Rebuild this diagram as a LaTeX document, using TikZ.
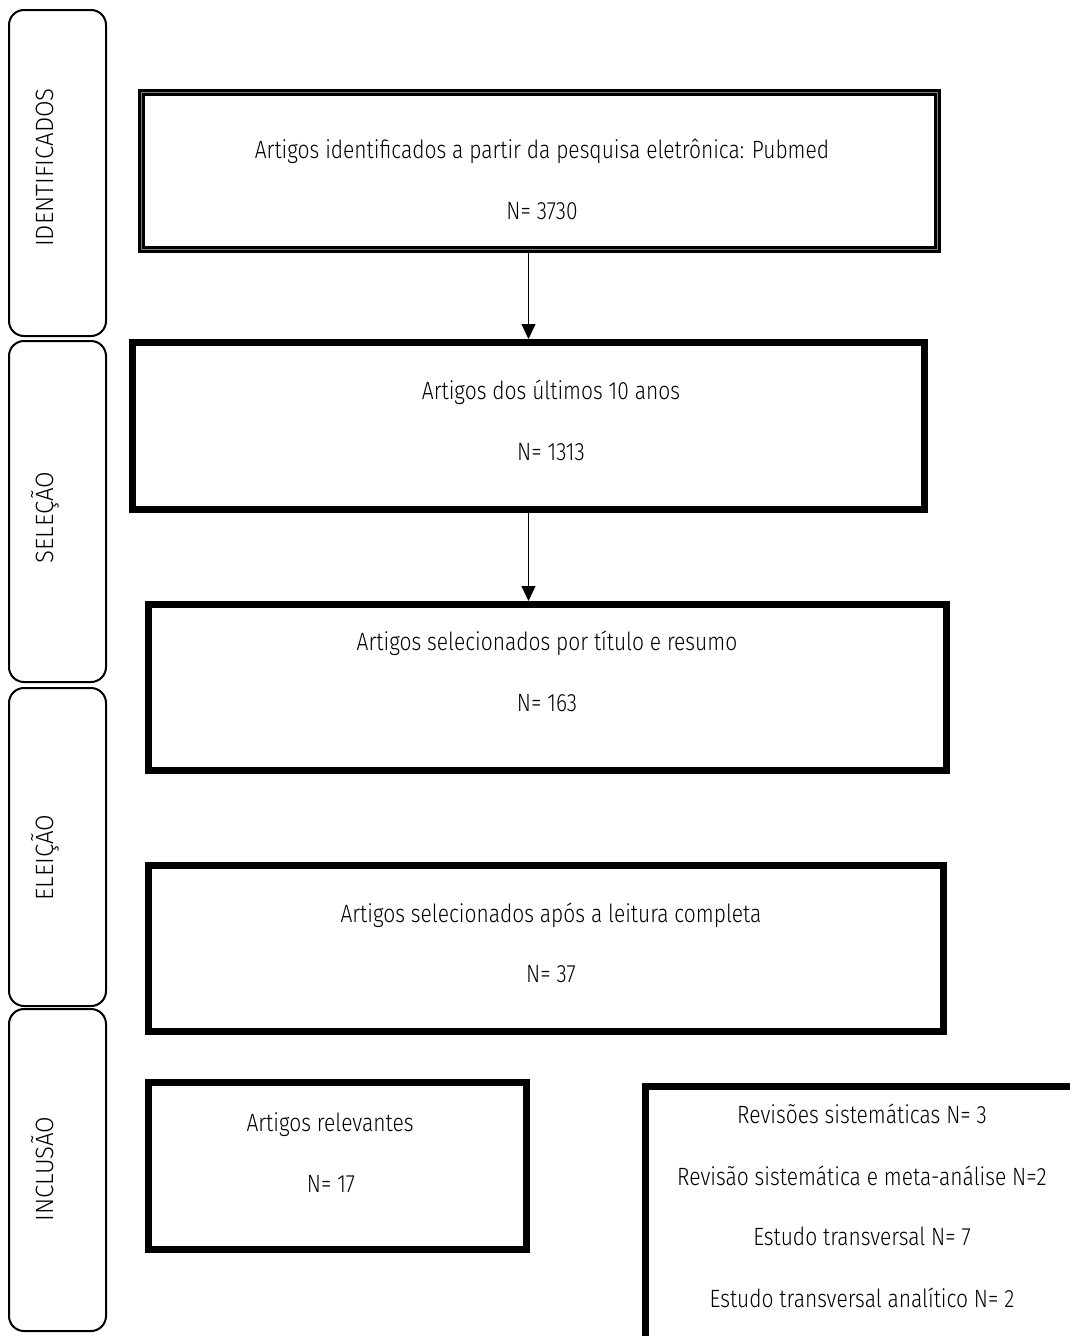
\documentclass[tikz,border=0pt]{standalone}
\usepackage{fontspec}
\setmainfont{Fira Sans Light}[FakeStretch=0.84]
\newfontfamily\tabfont{Fira Sans Light}[FakeStretch=0.96]
\usetikzlibrary{arrows.meta}
\begin{document}
\begin{tikzpicture}[x=1pt,y=-1pt,
  tab/.style={draw, line width=2pt, rounded corners=15pt, inner sep=0pt},
  box/.style={draw, line width=7pt, inner sep=0pt},
  dbox/.style={draw, line width=3pt, double=gray, double distance=1pt, inner sep=0pt},
  txt/.style={font=\fontsize{25}{30}\selectfont, anchor=base, inner sep=0pt},
  tabtxt/.style={font=\tabfont\fontsize{25}{30}\selectfont, anchor=base, inner sep=0pt, rotate=90},
  arr/.style={-{Triangle[width=14pt,length=15pt]}, line width=1pt}]
\useasboundingbox (0,0) rectangle (1069,1336);
% side tabs
\node[tab, minimum width=97pt, minimum height=326pt] (t1) at (57.5,173) {};
\node[tab, minimum width=97pt, minimum height=341pt] (t2) at (57.5,511.5) {};
\node[tab, minimum width=97pt, minimum height=318pt] (t3) at (57.5,847) {};
\node[tab, minimum width=97pt, minimum height=322pt] (t4) at (57.5,1170) {};
\node[tabtxt] (l1) at (53,167.5) {IDENTIFICADOS};
\node[tabtxt] (l2) at (53,517.5) {SELEÇÃO};
\node[tabtxt] (l3) at (53,857.5) {ELEIÇÃO};
\node[tabtxt] (l4) at (53,1169) {INCLUSÃO};
% boxes
\node[dbox, minimum width=796pt, minimum height=157pt] (b1) at (539.5,171) {};
\node[box, minimum width=792pt, minimum height=167pt] (b2) at (528.5,426) {};
\node[box, minimum width=798pt, minimum height=166pt] (b3) at (547.5,687.5) {};
\node[box, minimum width=795pt, minimum height=166pt] (b4) at (546,948.5) {};
\node[box, minimum width=378pt, minimum height=167pt] (b5) at (337.5,1166) {};
\node[box, minimum width=434.5pt, minimum height=252.5pt] (b6) at (862.75,1212.75) {};
% texts
\node[txt] (b1a) at (542,158) {Artigos identificados a partir da pesquisa eletrônica: Pubmed};
\node[txt] (b1b) at (542,219) {N= 3730};
\node[txt] (b2a) at (551,399) {Artigos dos últimos 10 anos};
\node[txt] (b2b) at (551,460) {N= 1313};
\node[txt] (b3a) at (547,650) {Artigos selecionados por título e resumo};
\node[txt] (b3b) at (547,711) {N= 163};
\node[txt] (b4a) at (551,922) {Artigos selecionados após a leitura completa};
\node[txt] (b4b) at (551,982) {N= 37};
\node[txt] (b5a) at (330,1131) {Artigos relevantes};
\node[txt] (b5b) at (331,1192) {N= 17};
\node[txt] (b6a) at (862,1123) {Revisões sistemáticas N= 3};
\node[txt] (b6b) at (862,1185) {Revisão sistemática e meta-análise N=2};
\node[txt] (b6c) at (862,1245) {Estudo transversal N= 7};
\node[txt] (b6d) at (862,1307) {Estudo transversal analítico N= 2};
% arrows
\draw[arr] (b2.north |- b1.south) -- (b2.north);
\draw[arr] (b2.south) -- (b2.south |- b3.north);
\end{tikzpicture}
\end{document}
